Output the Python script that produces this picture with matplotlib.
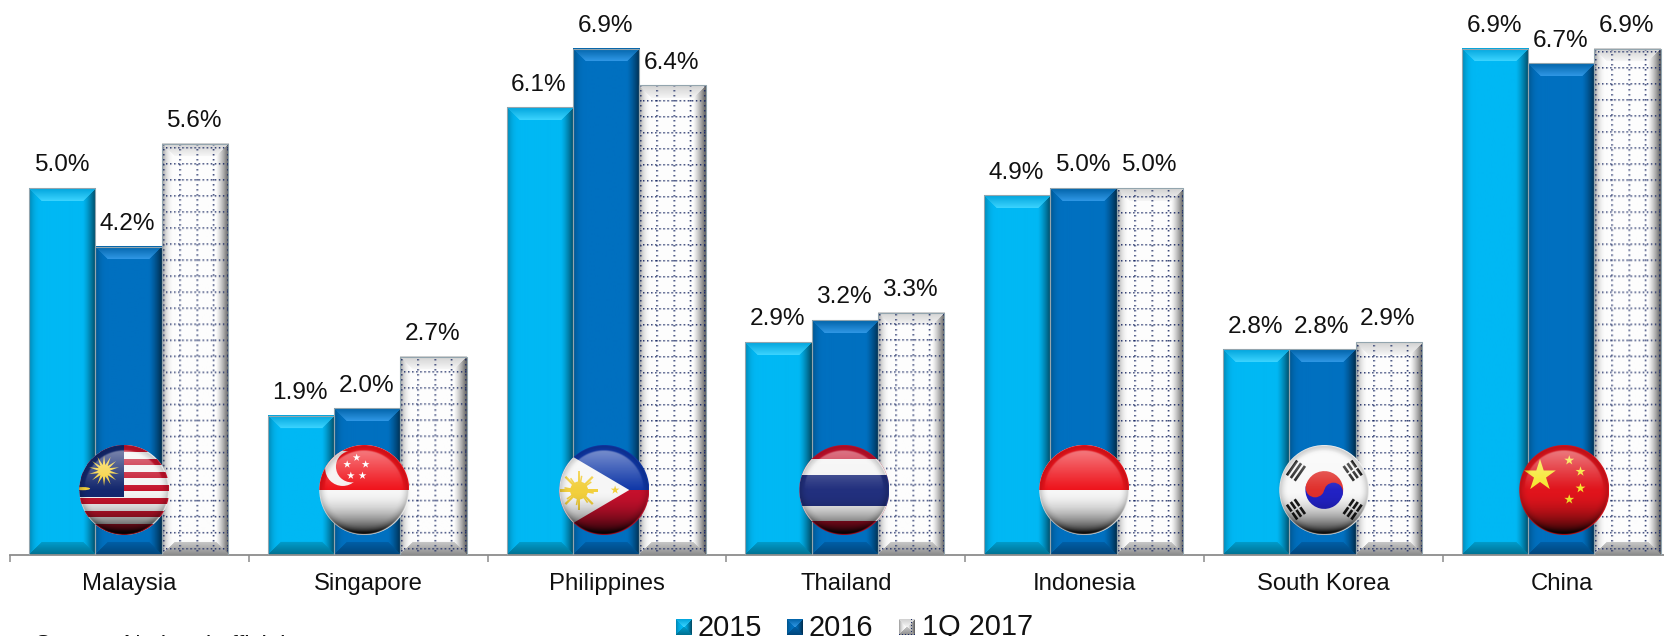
import numpy as np
import matplotlib
matplotlib.use('Agg')
import matplotlib.pyplot as plt
from matplotlib.patches import Circle, Ellipse, Polygon, Rectangle, Wedge
from matplotlib.transforms import Affine2D

plt.rcParams['font.family'] = ['Liberation Sans', 'DejaVu Sans']

countries = ['Malaysia', 'Singapore', 'Philippines', 'Thailand', 'Indonesia', 'South Korea', 'China']
series_names = ['2015', '2016', '1Q 2017']
growth_2015 = [5.0, 1.9, 6.1, 2.9, 4.9, 2.8, 6.9]
growth_2016 = [4.2, 2.0, 6.9, 3.2, 5.0, 2.8, 6.7]
growth_1q17 = [5.6, 2.7, 6.4, 3.3, 5.0, 2.9, 6.9]

W, H = 1665, 636
BASE_Y = 555          # pixel row of the category axis
LEFT_X = 10
PX_PER_CAT = 238.8
PX_PER_UNIT = 73.4
BAR_W = 0.2777
GROUP_MID = 0.496

# face, top inner, top outer, left outer, right outer, bottom inner, bottom outer
PALETTES = {
    '2015': ['#00B8F4', '#3CD4FF', '#00A4DC', '#0083AE', '#00465F', '#009CCB', '#006F8F'],
    '2016': ['#0070C0', '#3098E6', '#0062A8', '#005389', '#002C4C', '#005FA6', '#00457A'],
    '1Q 2017': ['#FDFDFD', '#F6F6F6', '#D0D0D0', '#9A9A9A', '#5A5A5A', '#C8C8C8', '#8C8C8C'],
}


def rgb(c):
    return np.array(matplotlib.colors.to_rgb(c))


def bevel_image(w, h, name, bevel=13):
    face, top_in, top_out, left_out, right_out, bot_in, bot_out = [rgb(c) for c in PALETTES[name]]
    yy, xx = np.mgrid[0:h, 0:w] + 0.5
    dist = np.stack([yy, h - yy, xx, w - xx])
    side = dist.argmin(axis=0)
    d = dist.min(axis=0)
    bv = min(bevel, w / 2, h / 2)
    t = np.clip(1 - d / bv, 0, 1)
    img = np.ones((h, w, 3)) * face
    faces = [(top_in, top_out, 1.0), (bot_in, bot_out, 1.0), (face, left_out, 2.5), (face, right_out, 1.3)]
    for k, (inner, outer, power) in enumerate(faces):
        m = (side == k) & (d < bv)
        img[m] = inner + (outer - inner) * (t[m] ** power)[:, None]
    return img


def add_dots(img, top_row):
    # dotted grid: rows follow the page, columns follow the bar
    navy = rgb('#1F2E66')
    h, w = img.shape[:2]

    def dot(r, c, a=1.0):
        if 0 <= r < h and 0 <= c < w:
            img[r, c] = img[r, c] * (1 - a) + navy * a

    for r in range(h):
        page = top_row + r
        if page % 16 == 4:
            for c in range(0, w, 4):
                dot(r, c)
                dot(r, c + 1, 0.35)
                dot(r + 1, c, 0.55)
                dot(r + 1, c + 1, 0.2)
        if page % 5 == 0:
            for c in [1, 17, 34, 50, 64]:
                dot(r, c)
                dot(r, c + 1, 0.5)
                dot(r + 1, c, 0.5)
                dot(r + 1, c + 1, 0.25)
    return img


fig = plt.figure(figsize=(W / 100, H / 100), dpi=100)
ax = fig.add_axes([LEFT_X / W, (H - BASE_Y) / H, (W - LEFT_X) / W, BASE_Y / H])
xlim = (0, (W - LEFT_X) / PX_PER_CAT)
ylim = (0, BASE_Y / PX_PER_UNIT)

x = np.arange(len(countries)) + GROUP_MID
for j, (name, values) in enumerate(zip(series_names, [growth_2015, growth_2016, growth_1q17])):
    bars = ax.bar(x + (j - 1) * BAR_W, values, BAR_W, fill=False, edgecolor='#93A5AE', linewidth=0.8, zorder=3)
    for rect_, v in zip(bars, values):
        w_px = int(round(rect_.get_width() * PX_PER_CAT))
        h_px = int(round(v * PX_PER_UNIT))
        img = bevel_image(w_px, h_px, name)
        if name == '1Q 2017':
            img = add_dots(img, BASE_Y - h_px)
        ax.imshow(img, extent=(rect_.get_x(), rect_.get_x() + rect_.get_width(), 0, v),
                  aspect='auto', interpolation='bilinear', zorder=2)
        ax.annotate(f'{v:.1f}%', (rect_.get_x() + rect_.get_width() / 2, v), xytext=(-0.6, 12), textcoords='offset points',
                    ha='center', va='baseline', fontsize=17.6, color='#111111', zorder=5, annotation_clip=False)

ax.set_xlim(xlim)
ax.set_ylim(ylim)
ax.set_yticks([])
for s in ['left', 'right', 'top']:
    ax.spines[s].set_visible(False)
ax.spines['bottom'].set_color('#8C8C8C')
ax.spines['bottom'].set_linewidth(1.3)
ax.set_xticks(np.arange(0, 7))
ax.set_xticklabels([])
ax.tick_params(axis='x', which='major', length=5, width=1.1, color='#8C8C8C')
ax.set_xticks(np.arange(len(countries)) + 0.5, minor=True)
ax.set_xticklabels(countries, minor=True, fontsize=17.2, color='#111111')
ax.tick_params(axis='x', which='minor', length=0, pad=13)

# overlay in pixel coordinates for flags, legend and the source line
fa = fig.add_axes([0, 0, 1, 1], facecolor='none')
fa.axis('off')


def star(cx, cy, r, color, inner=0.38, points=5, rot=-90):
    ang = np.radians(rot) + np.arange(points * 2) * np.pi / points
    rad = np.where(np.arange(points * 2) % 2 == 0, r, r * inner)
    return Polygon(np.c_[cx + rad * np.cos(ang), cy + rad * np.sin(ang)], closed=True, facecolor=color, edgecolor='none')


def rect(x0, y0, x1, y1, color):
    return Rectangle((x0, y0), x1 - x0, y1 - y0, facecolor=color, edgecolor='none')


def bar_poly(cx, cy, angle, length, thick, color):
    a = np.radians(angle)
    d = np.array([np.cos(a), np.sin(a)]) * length / 2
    n = np.array([-np.sin(a), np.cos(a)]) * thick / 2
    c = np.array([cx, cy])
    return Polygon([c - d - n, c + d - n, c + d + n, c - d + n], closed=True, facecolor=color, edgecolor='none')


def malaysia():
    out = [rect(-1, -1, 1, 1, '#F4F4F4'), rect(-1, -1, 1, -0.84, '#C4142C')]
    for k in range(6):
        v0 = -0.70 + k * 0.29
        out.append(rect(-1, v0, 1, v0 + 0.145, '#C4142C'))
    out.append(rect(-1, 0.88, 1, 1, '#A01020'))
    out.append(rect(-1, -1, 0, 0.16, '#14286E'))
    out.append(star(-0.45, -0.43, 0.34, '#F6D23C', inner=0.38, points=14))
    out.append(Ellipse((-0.92, -0.03), 0.32, 0.07, facecolor='#F6D23C', edgecolor='none'))
    return out


def singapore():
    out = [rect(-1, -1, 1, 1, '#F6F6F6'), rect(-1, -1, 1, 0.01, '#F0141C')]
    out.append(Circle((-0.48, -0.48), 0.39, facecolor='#F6F0F0', edgecolor='none'))
    out.append(Circle((-0.28, -0.52), 0.35, facecolor='#F0141C', edgecolor='none'))
    for p in [(-0.17, -0.72), (0.03, -0.57), (-0.04, -0.32), (-0.30, -0.32), (-0.38, -0.57)]:
        out.append(star(p[0], p[1], 0.09, 'white'))
    return out


def philippines():
    out = [rect(-1, -1, 1, 0, '#1038A8'), rect(-1, 0, 1, 1, '#C4102C')]
    out.append(Polygon([(0.555, 0), (-1.1, -0.975), (-1.1, 0.975)], closed=True, facecolor='#F6F6F6', edgecolor='none'))
    for ang in range(0, 180, 45):
        out.append(bar_poly(-0.56, 0.01, ang, 0.86, 0.05, '#F2CF3C'))
        out.append(bar_poly(-0.56, 0.01, ang + 10, 0.66, 0.035, '#F2CF3C'))
    out.append(Circle((-0.56, 0.01), 0.2, facecolor='#F2CF3C', edgecolor='none'))
    out.append(star(0.24, 0.0, 0.1, '#F2CF3C'))
    return out


def thailand():
    return [rect(-1, -1, 1, 1, '#C4102C'), rect(-1, -0.68, 1, 0.69, '#F4F4F4'), rect(-1, -0.33, 1, 0.35, '#22307E')]


def indonesia():
    return [rect(-1, -1, 1, 1, '#F6F6F6'), rect(-1, -1, 1, -0.01, '#EE141C')]


def korea():
    out = [rect(-1, -1, 1, 1, '#F8F8F8')]
    tilt = 13
    out.append(Wedge((0, 0), 0.42, 180 + tilt, 360 + tilt, facecolor='#E0302C', edgecolor='none'))
    out.append(Wedge((0, 0), 0.42, tilt, 180 + tilt, facecolor='#2222C4', edgecolor='none'))
    dx, dy = 0.21 * np.cos(np.radians(tilt)), 0.21 * np.sin(np.radians(tilt))
    out.append(Circle((-dx, -dy), 0.21, facecolor='#E0302C', edgecolor='none'))
    out.append(Circle((dx, dy), 0.21, facecolor='#2222C4', edgecolor='none'))
    for sx, sy, gap in [(-1, -1, False), (1, -1, True), (-1, 1, True), (1, 1, True)]:
        cx, cy = sx * 0.63, sy * 0.43
        ang = 55 * sx * -sy
        perp = np.radians(ang + 90)
        for k in (-1, 0, 1):
            bx, by = cx + k * 0.105 * np.cos(perp), cy + k * 0.105 * np.sin(perp)
            out.append(bar_poly(bx, by, ang, 0.40, 0.06, '#1A1A1A'))
        if gap:
            out.append(bar_poly(cx, cy, ang + 90, 0.32, 0.035, '#F8F8F8'))
    return out


def china():
    out = [rect(-1, -1, 1, 1, '#E0141C'), star(-0.54, -0.32, 0.37, '#F6E62C')]
    for p in [(0.11, -0.66), (0.36, -0.41), (0.36, -0.04), (0.11, 0.21)]:
        out.append(star(p[0], p[1], 0.115, '#F6E62C'))
    return out


def sphere_layers(n=180):
    yy, xx = np.mgrid[-1:1:n * 1j, -1:1:n * 1j]
    r = np.hypot(xx, yy)
    edge = np.clip((1 - r) * 45, 0, 1)
    dark = np.clip(yy, 0, 1) ** 2.0 * 0.92 + np.clip((r - 0.78) / 0.22, 0, 1) ** 2 * 0.22
    dark = np.clip(dark, 0, 0.95) * edge
    shade = np.zeros((n, n, 4))
    shade[..., 3] = dark
    inner = np.clip((0.9 - r) * 30, 0, 1)
    gloss = np.ones((n, n, 4))
    gloss[..., 3] = np.clip(-yy, 0, 1) ** 1.1 * 0.5 * inner
    return shade, gloss


shade_img, gloss_img = sphere_layers()
flag_makers = [malaysia, singapore, philippines, thailand, indonesia, korea, china]
R = 45
for i, maker in enumerate(flag_makers):
    cx, cy = 124.3 + 240 * i, 490
    disc = Circle((cx, cy), R, transform=fa.transData, facecolor='none', edgecolor='none')
    fa.add_patch(disc)
    local = Affine2D().scale(R).translate(cx, cy) + fa.transData
    for p in maker():
        p.set_transform(local)
        fa.add_patch(p)
        p.set_clip_path(disc)
    ext = (cx - R, cx + R, cy + R, cy - R)
    fa.imshow(shade_img, extent=ext, aspect='auto', interpolation='bilinear', zorder=4)
    fa.imshow(gloss_img, extent=ext, aspect='auto', interpolation='bilinear', zorder=4)

# legend keys and labels
key_x = [676, 787, 899]
text_x = [698, 809, 922]
for name, kx, tx in zip(series_names, key_x, text_x):
    key = bevel_image(16, 16, name, bevel=8)
    if name == '1Q 2017':
        key[::3, 12] = rgb('#1F2E66')
        key[-1, ::3] = rgb('#1F2E66')
    fa.imshow(key, extent=(kx, kx + 16, 635, 619), aspect='auto', interpolation='bilinear', zorder=4)
    fa.text(tx, 635.5, name, fontsize=20.8, color='#111111', ha='left', va='baseline')

# the source line runs off the bottom of the canvas
fa.text(35, 652.5, 'Source: National officials', fontsize=17.2, color='#111111', ha='left', va='baseline')

fa.set_xlim(0, W)
fa.set_ylim(H, 0)

fig.savefig('out.png', dpi=100)
